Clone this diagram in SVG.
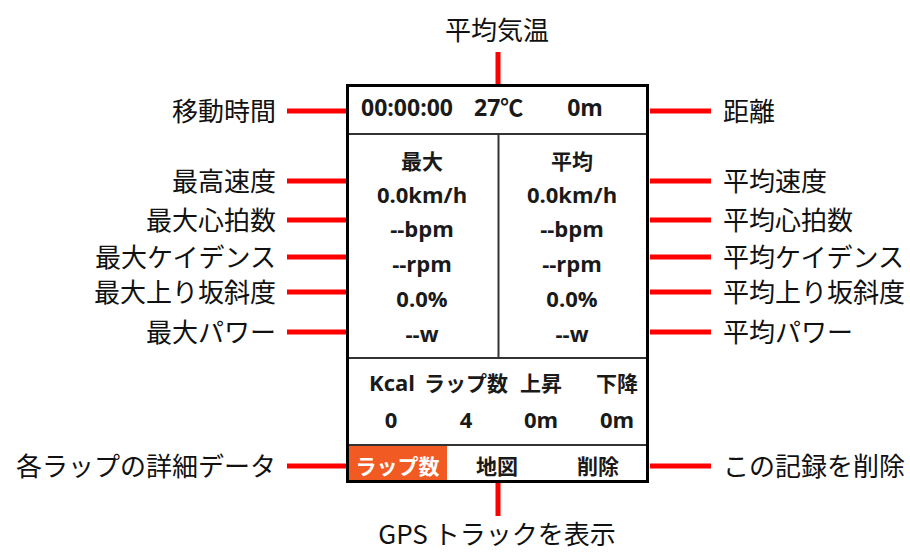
<svg xmlns="http://www.w3.org/2000/svg" width="910" height="552" viewBox="0 0 910 552">
<style>
.lbl{font-family:"Noto Sans CJK JP","Noto Sans",sans-serif;font-size:26px;fill:#111}
.l{text-anchor:end}
.c{text-anchor:middle}
.v{font-family:"Open Sans","Noto Sans CJK JP",sans-serif;font-weight:700;font-size:22px;fill:#1a1a1a}
.h{font-family:"Noto Sans CJK JP",sans-serif;font-weight:700;font-size:21px;fill:#1a1a1a}
.conn{stroke:#ff0000;stroke-width:5;fill:none}
.div{stroke:#333;stroke-width:2;fill:none}
</style>
<rect width="910" height="552" fill="#fff"/>
<g id="device">
<rect x="347.5" y="85.5" width="300" height="396" fill="#fff" stroke="#000" stroke-width="3"/>
<rect x="349" y="446" width="98" height="34" fill="#f15a22"/>
<line class="div" x1="349" y1="134" x2="646" y2="134"/>
<line class="div" x1="498.5" y1="134" x2="498.5" y2="358"/>
<line class="div" x1="349" y1="358" x2="646" y2="358"/>
<line class="div" x1="349" y1="445" x2="646" y2="445"/>
<text class="v" x="361" y="116" style="font-size:23px">00:00:00</text>
<text class="v" x="474" y="116" style="font-size:23px">27℃</text>
<text class="v c" x="585" y="116" style="font-size:23px">0m</text>
<text class="h c" x="422" y="169">最大</text>
<text class="h c" x="572" y="169">平均</text>
<text class="v c" x="422" y="203">0.0km/h</text>
<text class="v c" x="572" y="203">0.0km/h</text>
<text class="v c" x="422" y="237">--bpm</text>
<text class="v c" x="572" y="237">--bpm</text>
<text class="v c" x="422" y="272">--rpm</text>
<text class="v c" x="572" y="272">--rpm</text>
<text class="v c" x="422" y="307">0.0%</text>
<text class="v c" x="572" y="307">0.0%</text>
<text class="v c" x="422" y="342">--w</text>
<text class="v c" x="572" y="342">--w</text>
<text class="v c" x="392" y="391">Kcal</text>
<text class="h c" x="466" y="391">ラップ数</text>
<text class="h c" x="541" y="391">上昇</text>
<text class="h c" x="617" y="391">下降</text>
<text class="v c" x="391" y="428">0</text>
<text class="v c" x="466" y="428">4</text>
<text class="v c" x="541" y="428">0m</text>
<text class="v c" x="617" y="428">0m</text>
<text class="h c" x="397.5" y="474" style="fill:#fff">ラップ数</text>
<text class="h c" x="497" y="474">地図</text>
<text class="h c" x="598" y="474">削除</text>
</g>
<g id="connectors">
<line class="conn" x1="498" y1="52" x2="498" y2="84"/>
<line class="conn" x1="498" y1="483" x2="498" y2="516"/>
<line class="conn" x1="287" y1="111" x2="346" y2="111"/>
<line class="conn" x1="287" y1="181" x2="346" y2="181"/>
<line class="conn" x1="287" y1="220" x2="346" y2="220"/>
<line class="conn" x1="287" y1="257" x2="346" y2="257"/>
<line class="conn" x1="287" y1="292" x2="346" y2="292"/>
<line class="conn" x1="287" y1="332" x2="346" y2="332"/>
<line class="conn" x1="287" y1="466" x2="346" y2="466"/>
<line class="conn" x1="650" y1="111" x2="711" y2="111"/>
<line class="conn" x1="650" y1="181" x2="711" y2="181"/>
<line class="conn" x1="650" y1="220" x2="711" y2="220"/>
<line class="conn" x1="650" y1="257" x2="711" y2="257"/>
<line class="conn" x1="650" y1="292" x2="711" y2="292"/>
<line class="conn" x1="650" y1="332" x2="711" y2="332"/>
<line class="conn" x1="650" y1="466" x2="711" y2="466"/>
</g>
<g id="label-top"><text class="lbl c" x="497" y="40">平均気温</text></g>
<g id="label-bottom"><text class="lbl c" x="497" y="544">GPS トラックを表示</text></g>
<g id="label-moving-time"><text class="lbl l" x="276" y="121">移動時間</text></g>
<g id="label-max-speed"><text class="lbl l" x="276" y="191">最高速度</text></g>
<g id="label-max-hr"><text class="lbl l" x="276" y="230">最大心拍数</text></g>
<g id="label-max-cadence"><text class="lbl l" x="276" y="267">最大ケイデンス</text></g>
<g id="label-max-grade"><text class="lbl l" x="276" y="302">最大上り坂斜度</text></g>
<g id="label-max-power"><text class="lbl l" x="276" y="342">最大パワー</text></g>
<g id="label-lap-detail"><text class="lbl l" x="276" y="476">各ラップの詳細データ</text></g>
<g id="label-distance"><text class="lbl" x="723" y="121">距離</text></g>
<g id="label-avg-speed"><text class="lbl" x="723" y="191">平均速度</text></g>
<g id="label-avg-hr"><text class="lbl" x="723" y="230">平均心拍数</text></g>
<g id="label-avg-cadence"><text class="lbl" x="723" y="267">平均ケイデンス</text></g>
<g id="label-avg-grade"><text class="lbl" x="723" y="302">平均上り坂斜度</text></g>
<g id="label-avg-power"><text class="lbl" x="723" y="342">平均パワー</text></g>
<g id="label-delete"><text class="lbl" x="723" y="476">この記録を削除</text></g>
</svg>
